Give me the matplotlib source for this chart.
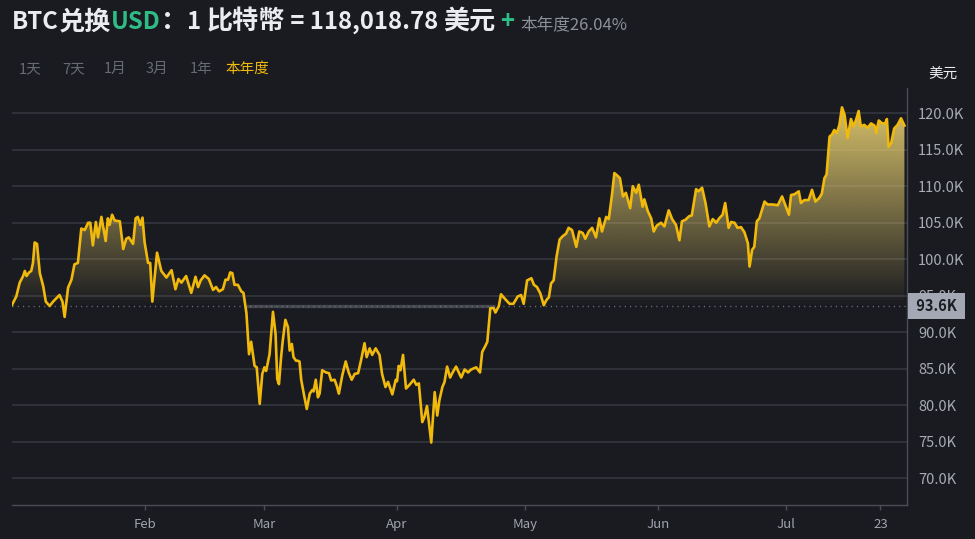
import numpy as np
import matplotlib
matplotlib.use("Agg")
import matplotlib.pyplot as plt
import matplotlib.dates as mdates
from matplotlib.path import Path
from matplotlib.transforms import blended_transform_factory, offset_copy

# ---------------- data ----------------
start_date = np.datetime64("2025-01-01T00:00")
# day offsets from 2025-01-01 (fractional) and BTC price in thousands of USD
days = [
    0.0, 1.0, 1.8, 2.6, 3.0, 3.4, 4.0, 4.5, 4.9, 5.3, 5.85, 6.5, 7.3, 7.9, 8.8, 9.6,
    11.1, 11.8, 12.3, 13.1, 13.9, 14.6, 15.4, 16.2, 17.0, 17.8, 18.3, 18.9, 19.6, 20.1,
    20.9, 21.9, 22.4, 22.8, 23.4, 24.0, 25.2, 26.0, 26.7, 27.3, 28.3, 28.9, 29.4, 30.0,
    30.5, 31.0, 31.8, 32.3, 32.8, 33.9, 34.9, 36.1, 37.3, 38.2, 38.9, 39.6, 40.7, 41.9,
    42.9, 43.5, 44.1, 45.0, 46.0, 47.0, 47.7, 48.4, 49.3, 49.9, 50.5, 51.0, 51.5, 52.0,
    52.8, 53.6, 54.1, 54.8, 55.4, 55.9, 56.7, 57.2, 57.9, 58.5, 59.0, 59.4, 60.2, 61.0,
    61.6, 62.0, 62.4, 62.9, 63.3, 63.9, 64.5, 64.9, 65.4, 65.8, 66.4, 66.8, 67.2, 67.6,
    68.2, 68.9, 69.6, 70.2, 70.5, 71.0, 71.5, 71.9, 72.5, 73.4, 74.1, 74.6, 75.4, 75.9,
    76.4, 77.2, 78.0, 78.7, 79.4, 80.1, 80.9, 81.6, 82.4, 82.9, 83.6, 84.2, 85.0, 85.9,
    86.5, 87.3, 87.9, 88.9, 89.7, 90.0, 90.4, 90.8, 91.4, 92.1, 92.9, 93.9, 94.5, 95.1,
    95.9, 96.4, 97.0, 98.0, 98.8, 99.4, 99.9, 100.6, 101.1, 101.7, 102.4, 102.9, 103.8,
    105.0, 105.8, 106.6, 107.3, 108.5, 109.4, 109.9, 110.7, 111.1, 111.8, 112.6, 113.0,
    113.8, 114.3, 115.5, 116.3, 117.2, 118.2, 119.0, 119.6, 120.4, 121.4, 122.0, 122.7,
    123.5, 124.3, 124.9, 125.5, 126.0, 126.6, 127.3, 128.0, 128.8, 129.5, 130.1, 130.9,
    131.9, 132.6, 133.4, 134.0, 134.8, 135.6, 136.5, 137.3, 137.9, 138.9, 139.5, 140.3,
    140.8, 141.6, 142.1, 142.8, 143.5, 144.5, 145.1, 145.9, 146.5, 147.4, 147.8, 148.6,
    149.4, 150.0, 150.7, 151.7, 152.5, 153.5, 154.3, 155.2, 156.0, 156.6, 157.4, 158.3,
    158.9, 159.9, 160.5, 161.3, 162.1, 163.0, 163.8, 164.6, 165.3, 166.1, 166.7, 167.5,
    168.1, 168.9, 169.6, 170.4, 171.2, 172.0, 172.4, 173.0, 173.5, 174.1, 174.7, 175.9,
    176.6, 177.8, 179.0, 180.0, 180.9, 181.6, 182.1, 182.9, 183.9, 184.4, 185.2, 186.2,
    187.0, 187.8, 188.7, 189.3, 189.9, 190.4, 191.1, 191.7, 192.2, 192.8, 193.4, 194.0,
    194.6, 195.3, 196.1, 196.7, 197.3, 197.9, 198.4, 199.2, 200.0, 200.8, 201.6, 202.0,
    202.6, 203.4, 204.1, 204.5, 204.9, 205.5, 206.2, 207.0, 207.8, 208.6,
]
price_k = [
    93.75, 94.9, 96.8, 97.7, 98.4, 97.7, 98.2, 98.4, 99.5, 102.3, 102.1, 98.1, 96.3, 94.2, 93.6, 94.2,
    95.1, 94.2, 92.1, 96.1, 97.2, 99.3, 99.5, 104.2, 104.0, 105.0, 105.0, 101.9, 105.1, 103.0,
    105.8, 102.5, 105.6, 104.7, 106.1, 105.3, 105.2, 101.4, 102.8, 103.0, 102.1, 105.6, 105.8, 104.7,
    105.7, 102.3, 99.5, 99.5, 94.2, 100.9, 98.4, 97.5, 98.5, 95.9, 97.3, 96.8, 97.7, 95.4,
    97.6, 96.2, 97.1, 97.8, 97.3, 95.8, 96.2, 95.6, 95.9, 97.2, 97.2, 98.2, 98.1, 96.5,
    96.5, 95.6, 95.4, 92.6, 87.0, 88.7, 85.4, 85.2, 80.2, 84.3, 85.2, 84.7, 87.0, 92.8,
    89.8, 83.6, 82.9, 86.6, 88.9, 91.7, 90.7, 87.5, 88.4, 86.6, 86.1, 86.1, 86.0, 83.5,
    81.6, 79.5, 81.6, 82.1, 81.9, 83.5, 81.1, 81.6, 84.8, 84.5, 84.4, 83.4, 83.5, 82.7,
    81.6, 84.1, 86.0, 84.5, 83.5, 84.3, 84.4, 86.2, 88.5, 86.6, 87.8, 86.9, 87.8, 86.9,
    84.3, 82.5, 83.2, 81.5, 83.5, 83.3, 85.4, 84.8, 86.9, 82.3, 82.8, 83.5, 82.8, 83.0,
    77.7, 78.4, 79.9, 74.9, 81.8, 78.6, 80.7, 82.5, 83.2, 85.3, 83.8, 84.4, 85.3,
    83.8, 84.9, 84.5, 84.9, 85.2, 84.5, 87.3, 88.2, 88.7, 93.3, 93.3, 92.7,
    93.6, 95.2, 94.4, 93.9, 93.9, 94.9, 95.1, 93.9, 97.1, 97.4, 96.5, 96.2,
    95.3, 93.7, 94.4, 94.8, 96.7, 97.1, 100.4, 102.7, 103.2, 103.5, 104.3, 104.0,
    101.7, 103.8, 103.6, 102.8, 103.8, 104.3, 103.0, 105.6, 103.8, 105.8, 105.5, 109.1,
    111.8, 111.4, 111.1, 108.6, 109.1, 107.0, 110.0, 109.1, 110.2, 107.2, 108.2, 106.6,
    105.6, 103.8, 104.6, 105.0, 104.5, 106.7, 105.5, 104.7, 102.6, 105.2, 105.4, 105.9,
    106.0, 109.6, 109.3, 109.8, 107.7, 104.5, 105.5, 105.0, 105.6, 106.1, 107.7, 104.3,
    105.1, 105.0, 104.3, 104.4, 103.7, 102.2, 99.0, 101.3, 101.7, 105.2, 105.6, 107.9,
    107.5, 107.5, 107.4, 108.6, 107.2, 106.1, 108.8, 108.9, 109.3, 107.7, 108.1, 108.1,
    109.5, 107.9, 108.4, 109.0, 111.1, 111.6, 116.8, 117.1, 117.7, 117.3, 118.4, 120.8,
    119.8, 116.6, 119.2, 118.2, 119.1, 120.3, 118.2, 118.4, 118.0, 118.6, 118.3, 117.3,
    119.0, 118.6, 118.6, 119.2, 115.4, 115.9, 117.9, 118.4, 119.3, 118.3,
]
baseline_k = 93.6
y_ticks = [70, 75, 80, 85, 90, 95, 100, 105, 110, 115, 120]
x_tick_dates = ["2025-02-01", "2025-03-01", "2025-04-01", "2025-05-01",
                "2025-06-01", "2025-07-01", "2025-07-23"]
x_tick_labels = ["Feb", "Mar", "Apr", "May", "Jun", "Jul", "23"]
range_tabs = ["1天", "7天", "1月", "3月", "1年", "本年度"]
active_tab = "本年度"
# (text, colour key, script kind)
title_parts = [("BTC", "white", "latin"), ("兑换", "white", "cjk"),
               ("USD", "green", "latin"), ("：", "white", "cjk"),
               ("1 ", "white", "latin"), ("比特幣", "white", "cjk"),
               (" = 118,018.78 ", "white", "latin"), ("美元", "white", "cjk")]
change_text = "本年度26.04%"
unit_label = "美元"

# ---------------- style ----------------
BG = "#1a1b20"
LINE = "#f0b90b"
GREEN = "#2ebd85"
WHITE = "#eaecef"
GREY_TXT = "#8c9099"
TAB_GREY = "#666a74"
GRID = "#34363e"
SPINE = "#4a4d56"
FONT = ["Noto Sans CJK SC", "DejaVu Sans"]
plt.rcParams["font.family"] = FONT

W, H = 975, 539
fig = plt.figure(figsize=(W / 100, H / 100), dpi=100, facecolor=BG)
ax = fig.add_axes([12 / W, (H - 505) / H, (907 - 12) / W, (505 - 88) / H])
ax.set_facecolor(BG)

x0 = mdates.date2num(start_date)
x = x0 + np.array(days)
p = np.array(price_k)

# gradient fill above the baseline
fb = ax.fill_between(x, p, baseline_k, where=p >= baseline_k, interpolate=True,
                     facecolor="none", edgecolor="none")
compound = Path.make_compound_path(*fb.get_paths())
top_v = 121.5
n = 256
alpha = np.linspace(0.95, 0.0, n)
fill_rgb = np.array([230, 206, 112]) / 255.0
grad = np.zeros((n, 1, 4))
grad[:, 0, :3] = fill_rgb
grad[:, 0, 3] = alpha
im = ax.imshow(grad, extent=[x[0], x[-1], baseline_k, top_v], aspect="auto",
               origin="upper", zorder=1, interpolation="bilinear")
im.set_clip_path(compound, ax.transData)

# grey band along the baseline during the longest stretch below it
below = p < baseline_k
best = (0, -1)
i = 0
while i < len(p):
    if below[i]:
        j = i
        while j + 1 < len(p) and below[j + 1]:
            j += 1
        if j - i > best[1] - best[0]:
            best = (i, j)
        i = j + 1
    else:
        i += 1
ax.plot([x[best[0]], x[best[1]]], [baseline_k, baseline_k], color="#44464e",
        lw=2.4, zorder=2, solid_capstyle="butt")

# dotted baseline
ax.axhline(baseline_k, color="#70747e", lw=1.0, linestyle=(0, (0.8, 3.0)), zorder=2.5)

# price line
ax.plot(x, p, color=LINE, lw=1.9, zorder=4, solid_joinstyle="round")

# axes
ax.set_xlim(x0, x0 + 209.2)
ax.set_ylim(66.35, 123.45)
ax.yaxis.tick_right()
ax.set_yticks(y_ticks)
ax.set_yticklabels([f"{v:.1f}K" for v in y_ticks])
ax.yaxis.grid(True, color=GRID, lw=1.2, zorder=0)
ax.set_axisbelow(True)
ax.set_xticks([mdates.date2num(np.datetime64(d)) for d in x_tick_dates])
ax.set_xticklabels(x_tick_labels)
ax.tick_params(axis="y", length=0, pad=8, labelsize=10.5, labelcolor="#a7abb4")
ax.tick_params(axis="x", length=3.5, width=1, color=SPINE, pad=6,
               labelsize=9.5, labelcolor="#a0a4ad")
for s in ("top", "left"):
    ax.spines[s].set_visible(False)
for s in ("right", "bottom"):
    ax.spines[s].set_color(SPINE)
    ax.spines[s].set_linewidth(1.0)

# baseline value tag
tag_fs = 10.5
tag_pad = 0.35 * tag_fs  # points
tr = blended_transform_factory(ax.transAxes, ax.transData)
tr_off = offset_copy(tr, fig=fig, x=tag_pad + 0.4, y=0, units="points")
ax.text(1.0, baseline_k, f" {baseline_k:.1f}K ", transform=tr_off, ha="left", va="center",
        fontsize=tag_fs, fontweight="bold", color="#1c1d22", clip_on=False, zorder=10,
        bbox=dict(boxstyle="square,pad=0.35", facecolor="#a3a8b4", edgecolor="none"))

# ---------------- header ----------------
fig.canvas.draw()
renderer = fig.canvas.get_renderer()
colors = {"white": WHITE, "green": GREEN}
sizes = {"latin": 17.2, "cjk": 18.8}
cx = 12
base_y = H - 29
for txt, c, kind in title_parts:
    t = fig.text(cx / W, base_y / H, txt, color=colors[c], fontsize=sizes[kind],
                 fontweight="bold", va="baseline", ha="left")
    cx += t.get_window_extent(renderer).width
cx += 4
t = fig.text(cx / W, base_y / H, "+", color=GREEN, fontsize=17.2, fontweight="bold",
             va="baseline", ha="left")
cx += t.get_window_extent(renderer).width + 7
fig.text(cx / W, base_y / H, change_text, color=GREY_TXT, fontsize=12,
         va="baseline", ha="left")

tab_x = [19, 62, 104, 146, 190, 225]
for tx, lab in zip(tab_x, range_tabs):
    fig.text(tx / W, (H - 73) / H, lab, fontsize=10.5, va="baseline", ha="left",
             color=LINE if lab == active_tab else TAB_GREY)

fig.text(928 / W, (H - 78) / H, unit_label, fontsize=10.5, color=WHITE,
         va="baseline", ha="left")

fig.savefig("out.png", dpi=100, facecolor=BG)
